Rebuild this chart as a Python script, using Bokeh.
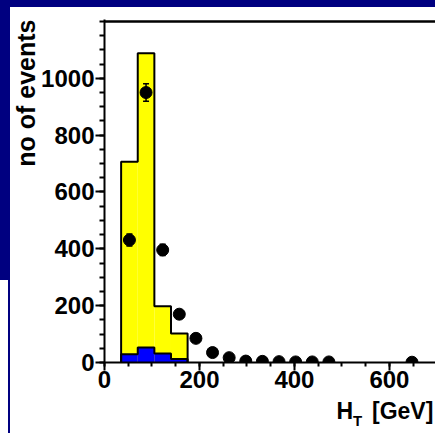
import math
from bokeh.plotting import figure
from bokeh.layouts import column, row
from bokeh.models import (Range1d, Span, Label, Whisker, ColumnDataSource,
                          TeeHead, FixedTicker)
from bokeh.embed import file_html
from bokeh.resources import INLINE

# ---- data ----
bin_edges = [35, 70, 105, 140, 175]          # H_T bin edges [GeV]
mc_total = [706, 1088, 198, 102]             # yellow (total MC) per bin
mc_blue = [29, 53, 32, 12]                   # blue component per bin
data_x = [52.5, 87.5, 122.5, 157.5, 192.5, 227.5, 262.5, 297.5,
          332.5, 367.5, 402.5, 437.5, 472.5, 647.5]
data_y = [431, 950, 396, 170, 85, 35, 17, 5, 4, 3, 2, 2, 2, 1]
x_major = [0, 200, 400, 600]
y_major = [0, 200, 400, 600, 800, 1000]

FONT = "Liberation Sans"

# ---------------- main plot ----------------
p = figure(width=397, height=398, output_backend="svg", toolbar_location=None,
           title=None,
           x_range=Range1d(0, 697), y_range=Range1d(0, 1207),
           min_border_left=66, min_border_right=0, min_border_top=19,
           min_border_bottom=36)
p.border_fill_color = None
p.background_fill_color = "white"
p.outline_line_color = None
p.grid.visible = False

p.xaxis.ticker = FixedTicker(ticks=x_major, minor_ticks=list(range(0, 701, 50)))
p.yaxis.ticker = FixedTicker(ticks=y_major, minor_ticks=list(range(0, 1201, 50)))
for ax in (p.xaxis, p.yaxis):
    ax.axis_line_width = 2
    ax.major_tick_line_width = 2
    ax.minor_tick_line_width = 2
    ax.major_tick_in = 0
    ax.minor_tick_in = 0
    ax.major_label_text_font = FONT
    ax.major_label_text_font_style = "bold"
    ax.major_label_text_font_size = "24px"
    ax.major_label_text_color = "black"
    ax.axis_line_color = "black"
    ax.major_tick_line_color = "black"
    ax.minor_tick_line_color = "black"
p.xaxis.major_tick_out = 8
p.xaxis.minor_tick_out = 4
p.yaxis.major_tick_out = 9
p.yaxis.minor_tick_out = 5
p.xaxis.major_label_standoff = 0
p.yaxis.major_label_standoff = 1

lefts = bin_edges[:-1]
rights = bin_edges[1:]
p.quad(left=lefts, right=rights, bottom=0, top=mc_total,
       fill_color="#ffff00", line_color=None)
p.quad(left=lefts, right=rights, bottom=0, top=mc_blue,
       fill_color="#0000ff", line_color=None)


def step_outline(edges, vals):
    xs, ys = [edges[0]], [0]
    for i, v in enumerate(vals):
        xs += [edges[i], edges[i + 1]]
        ys += [v, v]
    xs.append(edges[-1])
    ys.append(0)
    return xs, ys


sx, sy = step_outline(bin_edges, mc_total)
p.line(sx, sy, line_color="black", line_width=2)
bx, by = step_outline(bin_edges, mc_blue)
p.line(bx, by, line_color="black", line_width=2)

err = [math.sqrt(v) for v in data_y]
src = ColumnDataSource(dict(x=data_x, y=data_y,
                            upper=[v + e for v, e in zip(data_y, err)],
                            lower=[v - e for v, e in zip(data_y, err)]))
p.scatter("x", "y", source=src, size=12, color="black")
wh = Whisker(source=src, base="x", upper="upper", lower="lower",
             dimension="height", line_width=1.5, line_color="black",
             upper_head=TeeHead(size=6, line_width=1.5, line_color="black"),
             lower_head=TeeHead(size=6, line_width=1.5, line_color="black"))
wh.level = "overlay"
p.add_layout(wh)

# frame top line
p.add_layout(Span(location=1200, dimension="width", line_color="black",
                  line_width=2.5))


def text_fig(w, h, yh):
    f = figure(width=w, height=h, output_backend="svg", toolbar_location=None,
               title=None,
               x_range=Range1d(0, w), y_range=Range1d(0, yh),
               min_border=0, min_border_left=0, min_border_right=0,
               min_border_top=0, min_border_bottom=0,
               x_axis_type=None, y_axis_type=None)
    f.border_fill_color = None
    f.background_fill_color = None
    f.outline_line_color = None
    f.grid.visible = False
    return f


# y title: this figure's frame is aligned with the main frame (19..362 px),
# so one data unit = one pixel, measured up from the x axis.
ylab = text_fig(38, 398, 343)
ylab.add_layout(Label(x=25.5, y=343, text="no of events", angle=math.pi / 2,
                      text_align="right", text_baseline="middle",
                      text_font=FONT, text_font_style="bold",
                      text_font_size="25px", text_color="black"))

# x title H_T [GeV]: frame = whole 435x35 strip, one unit = one pixel
xlab = text_fig(435, 35, 35)
xlab.add_layout(Label(x=336, y=22.4, text="H", text_align="left",
                      text_baseline="middle", text_font=FONT,
                      text_font_style="bold", text_font_size="23px",
                      text_color="black"))
xlab.add_layout(Label(x=352.5, y=13.2, text="T", text_align="left",
                      text_baseline="middle", text_font=FONT,
                      text_font_style="bold", text_font_size="15px",
                      text_color="black"))
xlab.add_layout(Label(x=371.5, y=22.4, text="[GeV]", text_align="left",
                      text_baseline="middle", text_font=FONT,
                      text_font_style="bold", text_font_size="23px",
                      text_color="black"))

layout = column(row(ylab, p, spacing=0), xlab, spacing=0)
layout.styles = {
    "background": ("linear-gradient(#000080,#000080) 0 0/100% 7px no-repeat, "
                   "linear-gradient(#000080,#000080) 0 0/9px 280px no-repeat, "
                   "linear-gradient(#000080,#000080) 8px 0/2px 100% no-repeat, "
                   "#ffffff")
}

open("out.html", "w").write(file_html(layout, INLINE))
